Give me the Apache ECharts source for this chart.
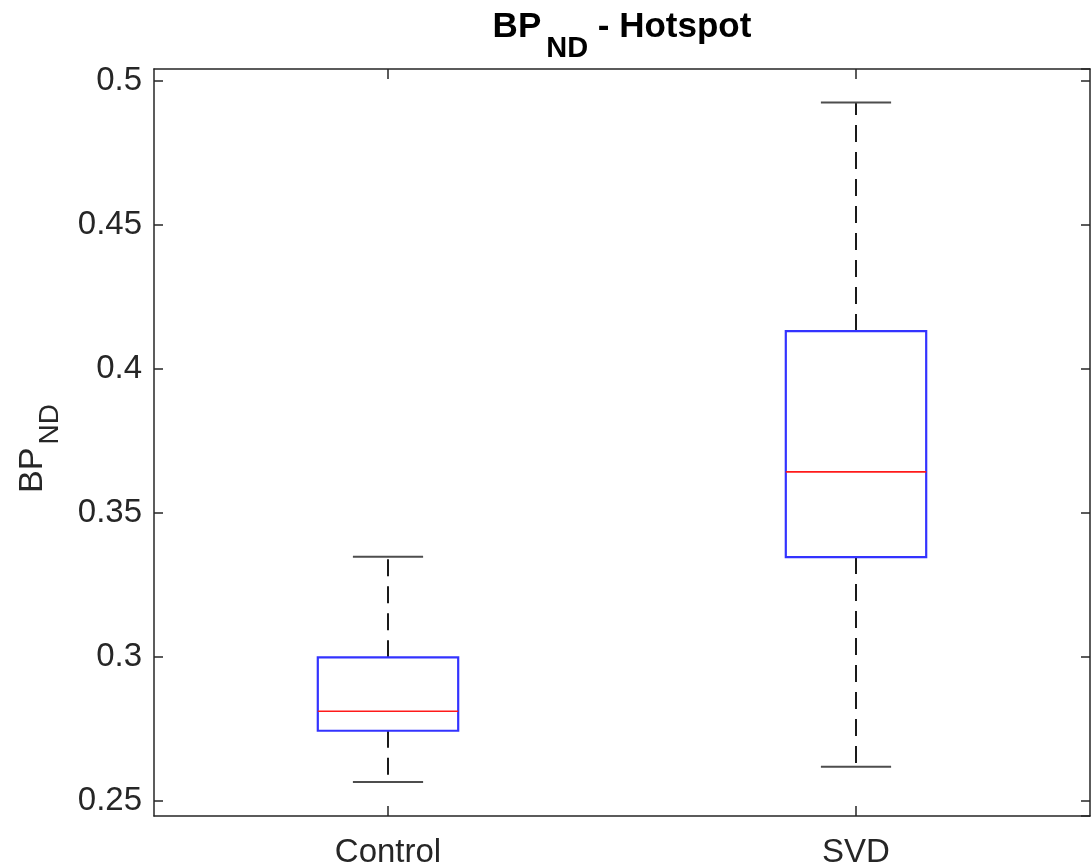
<!DOCTYPE html>
<html>
<head>
<meta charset="utf-8">
<script src="https://cdn.jsdelivr.net/npm/echarts@6/dist/echarts.min.js"></script>
<style>
html,body{margin:0;padding:0;background:#fff;}
#chart{width:1092px;height:864px;}
</style>
</head>
<body>
<div id="chart"></div>
<script>
var categories = ['Control', 'SVD'];
var lowerWhisker = [0.2565, 0.2618];
var q1 = [0.2743, 0.3346];
var median = [0.2811, 0.3642];
var q3 = [0.2998, 0.4131];
var upperWhisker = [0.3347, 0.4925];
var yMin = 0.2447;
var yMax = 0.5041;

var FONT = 'Liberation Sans, Arial, Helvetica, sans-serif';
var data = categories.map(function (c, i) {
  return [i, lowerWhisker[i], q1[i], median[i], q3[i], upperWhisker[i]];
});

function renderItem(params, api) {
  var idx = api.value(0);
  var unit = api.size([1, 0])[0];
  var boxW = unit * 0.3;
  var capW = unit * 0.15;
  var pLow = api.coord([idx, api.value(1)]);
  var pQ1 = api.coord([idx, api.value(2)]);
  var pMed = api.coord([idx, api.value(3)]);
  var pQ3 = api.coord([idx, api.value(4)]);
  var pHigh = api.coord([idx, api.value(5)]);
  var cx = pMed[0];
  var dash = { stroke: '#1a1a1a', lineWidth: 2, lineDash: [17, 10] };
  var cap = { stroke: '#4d4d4d', lineWidth: 2 };
  return {
    type: 'group',
    children: [
      { type: 'line', shape: { x1: cx, y1: pQ3[1], x2: cx, y2: pHigh[1] }, style: dash },
      { type: 'line', shape: { x1: cx, y1: pQ1[1], x2: cx, y2: pLow[1] }, style: dash },
      { type: 'line', shape: { x1: cx - capW / 2, y1: pHigh[1], x2: cx + capW / 2, y2: pHigh[1] }, style: cap },
      { type: 'line', shape: { x1: cx - capW / 2, y1: pLow[1], x2: cx + capW / 2, y2: pLow[1] }, style: cap },
      { type: 'rect', shape: { x: cx - boxW / 2, y: pQ3[1], width: boxW, height: pQ1[1] - pQ3[1] },
        style: { fill: 'none', stroke: '#3333ff', lineWidth: 2.2 } },
      { type: 'line', shape: { x1: cx - boxW / 2, y1: pMed[1], x2: cx + boxW / 2, y2: pMed[1] },
        style: { stroke: '#ff1a1a', lineWidth: 1.6 } }
    ]
  };
}

function tickLabel(v) {
  var k = v / 0.05;
  if (Math.abs(k - Math.round(k)) > 1e-6) return '';
  return String(+v.toFixed(2));
}

var axisLine = { show: true, onZero: false, lineStyle: { color: '#262626', width: 1.5 } };
var axisTick = { show: true, inside: true, length: 9, lineStyle: { color: '#262626', width: 1.5 } };

var chart = echarts.init(document.getElementById('chart'));
chart.setOption({
  backgroundColor: '#ffffff',
  animation: false,
  graphic: [{
    type: 'text',
    x: 622,
    y: 10,
    style: {
      text: '{a|BP}{b|ND}{a| - Hotspot}',
      align: 'center',
      verticalAlign: 'top',
      rich: {
        a: { fontFamily: FONT, fontSize: 35, fontWeight: 'bold', fill: '#000', lineHeight: 32, verticalAlign: 'top' },
        b: { fontFamily: FONT, fontSize: 29, fontWeight: 'bold', fill: '#000', lineHeight: 32, verticalAlign: 'top', padding: [24, 0, 0, 5] }
      }
    }
  }],
  grid: { left: 154, right: 2, top: 69, bottom: 48, containLabel: false, outerBoundsMode: 'none' },
  xAxis: [{
    type: 'category',
    data: categories,
    position: 'bottom',
    boundaryGap: true,
    axisLine: axisLine,
    axisTick: { show: true, inside: true, length: 10, alignWithLabel: true, lineStyle: { color: '#262626', width: 1.5 } },
    axisLabel: { fontFamily: FONT, fontSize: 33, color: '#262626', margin: 20 },
    splitLine: { show: false }
  }, {
    type: 'category',
    data: categories,
    position: 'top',
    boundaryGap: true,
    axisLine: axisLine,
    axisTick: { show: true, inside: true, length: 10, alignWithLabel: true, lineStyle: { color: '#262626', width: 1.5 } },
    axisLabel: { show: false },
    splitLine: { show: false }
  }],
  yAxis: [{
    type: 'value',
    min: yMin,
    max: yMax,
    position: 'left',
    axisLine: axisLine,
    axisTick: axisTick,
    axisLabel: { fontFamily: FONT, fontSize: 33, color: '#262626', margin: 12, formatter: tickLabel, showMinLabel: false, showMaxLabel: false },
    splitLine: { show: false },
    name: '{a|BP}{b|ND}',
    nameLocation: 'middle',
    nameRotate: 90,
    nameGap: 106,
    nameTextStyle: {
      rich: {
        a: { fontFamily: FONT, fontSize: 34, color: '#262626', lineHeight: 32, verticalAlign: 'top' },
        b: { fontFamily: FONT, fontSize: 28, color: '#262626', lineHeight: 32, verticalAlign: 'top', padding: [20, 12, 0, 3] }
      }
    }
  }, {
    type: 'value',
    min: yMin,
    max: yMax,
    position: 'right',
    axisLine: axisLine,
    axisTick: axisTick,
    axisLabel: { show: false },
    splitLine: { show: false }
  }],
  series: [{
    type: 'custom',
    renderItem: renderItem,
    xAxisIndex: 0,
    yAxisIndex: 0,
    encode: { x: 0, y: [1, 2, 3, 4, 5] },
    data: data,
    clip: false
  }]
});
</script>
</body>
</html>
